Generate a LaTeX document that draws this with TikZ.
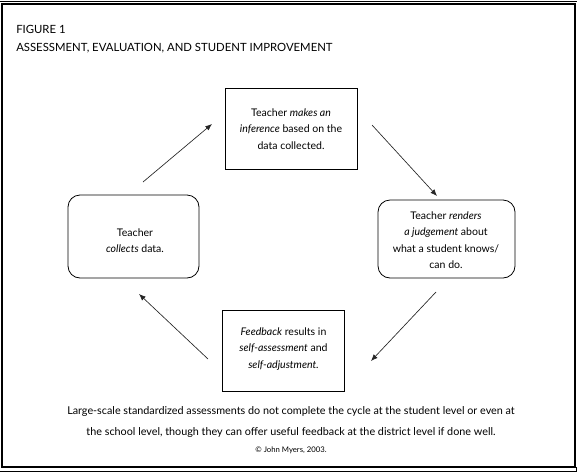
\documentclass[tikz,border=0pt]{standalone}
\usepackage{fontspec}
\setmainfont{Lato}
\usetikzlibrary{arrows.meta}
\begin{document}
\begin{tikzpicture}[x=0.75pt,y=-0.75pt,
  txt/.style={font=\fontsize{7.9pt}{12.4pt}\selectfont, align=center, inner sep=0pt},
  sqbox/.style={draw, line width=0.6pt, inner sep=0pt},
  rbox/.style={draw, line width=0.6pt, rounded corners=9pt, inner sep=0pt},
  arr/.style={-{Latex[length=5pt,width=4pt]}, line width=0.5pt, draw=black!85}]
\useasboundingbox (0,0) rectangle (580,475);
% frame
\draw[line width=1.1pt] (2,4) rectangle (575,467);
\draw[line width=0.5pt] (0,1.5) -- (577,1.5);
\draw[line width=0.5pt] (0,471) -- (576,471) -- (576,467);
% titles
\node[anchor=base west, inner sep=0pt, font=\fontsize{8.5pt}{9pt}\selectfont] (fig) at (16,33) {FIGURE 1};
\node[anchor=base west, inner sep=0pt, font=\fontsize{8.5pt}{9pt}\selectfont] (ttl) at (16,51) {ASSESSMENT, EVALUATION, AND STUDENT IMPROVEMENT};
% boxes
\node[sqbox, minimum width=132pt*0.75, minimum height=81pt*0.75] (top) at (291,128.5) {};
\node[txt] (toptxt) at (291,129) {Teacher \textit{makes an}\\\textit{inference} based on the\\data collected.};
\node[rbox, minimum width=131pt*0.75, minimum height=83pt*0.75] (left) at (133.5,236.5) {};
\node[txt] (lefttxt) at (135,240.5) {Teacher\\\textit{collects} data.};
\node[rbox, minimum width=137pt*0.75, minimum height=78pt*0.75] (right) at (446.5,239) {};
\node[txt] (righttxt) at (446,240) {Teacher \textit{renders}\\\textit{a judgement} about\\what a student knows/\\can do.};
\node[sqbox, minimum width=122pt*0.75, minimum height=81pt*0.75] (bot) at (283.5,350.5) {};
\node[txt] (bottxt) at (283.5,349) {\textit{Feedback} results in\\\textit{self-assessment} and\\\textit{self-adjustment.}};
% arrow end points
\coordinate (a1s) at (143,182); \coordinate (a1e) at (212,124);
\coordinate (a2s) at (372,125); \coordinate (a2e) at (437,196);
\coordinate (a3s) at (436,292); \coordinate (a3e) at (371,361);
\coordinate (a4s) at (208,359); \coordinate (a4e) at (139,294);
\draw[arr] (a1s) -- (a1e);
\draw[arr] (a2s) -- (a2e);
\draw[arr] (a3s) -- (a3e);
\draw[arr] (a4s) -- (a4e);
% footer
\node[txt, anchor=center, font=\fontsize{8.1pt}{15.6pt}\selectfont] (foot) at (291,422) {Large-scale standardized assessments do not complete the cycle at the student level or even at\\the school level, though they can offer useful feedback at the district level if done well.};
\node[inner sep=0pt, font=\fontsize{5.8pt}{7pt}\selectfont] (copy) at (291,450) {© John Myers, 2003.};
\end{tikzpicture}
\end{document}
